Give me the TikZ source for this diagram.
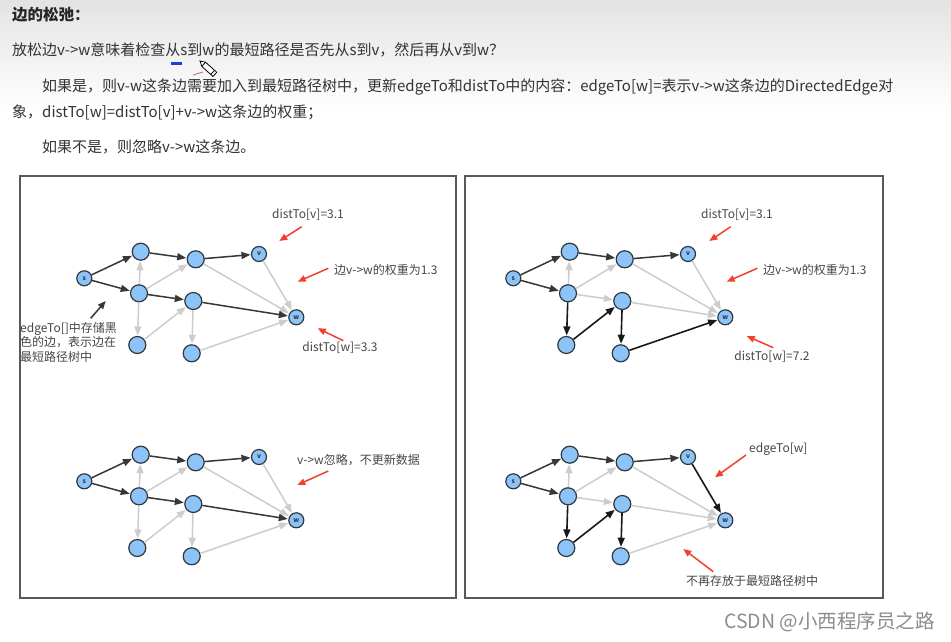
\documentclass[tikz,border=0pt]{standalone}
\usepackage{fontspec}
\newfontfamily\cjk{Noto Sans CJK SC}
\usetikzlibrary{arrows.meta}
\definecolor{vfill}{RGB}{140,196,250}
\definecolor{vline}{RGB}{50,55,60}
\definecolor{darkedge}{RGB}{55,55,55}
\definecolor{liteedge}{RGB}{205,205,205}
\definecolor{notered}{RGB}{242,64,44}
\definecolor{txt}{RGB}{51,51,51}
\definecolor{penblue}{RGB}{30,60,215}
\begin{document}
\begin{tikzpicture}[x=1pt,y=-1pt,
	vtx/.style={circle,draw=vline,fill=vfill,line width=1.2pt,minimum size=17pt,inner sep=0pt,
		font=\cjk\bfseries\fontsize{6.5}{6.5}\selectfont,text=vline},
	small/.style={minimum size=15pt},
	liteline/.style={liteedge,line width=1.5pt,-{Triangle[length=9pt,width=7pt]},shorten >=0.5pt},
	darkline/.style={darkedge,line width=1.5pt,-{Triangle[length=9pt,width=7pt]},shorten >=0.5pt},
	newline/.style={black!90,line width=1.6pt,-{Triangle[length=9pt,width=7pt]},shorten >=0.5pt},
	body/.style={anchor=west,inner sep=0pt,text=txt,font=\cjk\fontsize{15}{15}\selectfont},
	note/.style={inner sep=0pt,text=txt!90,font=\cjk\fontsize{12}{14.5}\selectfont},
	redarrow/.style={notered,line width=1.5pt,-{Triangle[length=8pt,width=6.5pt]}},
	blackarrow/.style={darkedge,line width=1.5pt,-{Triangle[length=8pt,width=6.5pt]}},
	panel/.style={draw=black!65,line width=1.6pt}]
	\useasboundingbox (0,0) rectangle (951,642);
	\fill[white] (0,0) rectangle (951,642);
	\shade[top color=black!11,bottom color=white] (0,0) rectangle (951,110);

	\node[body,font=\cjk\bfseries\fontsize{15.5}{15.5}\selectfont,text=black!85] (title) at (12,15) {边的松弛：};
	\node[body] (q1) at (12,50) {放松边v->w意味着检查从s到w的最短路径是否先从s到v，然后再从v到w？};
	\node[body] (q2) at (42,87) {如果是，则v-w这条边需要加入到最短路径树中，更新edgeTo和distTo中的内容：edgeTo[w]=表示v->w这条边的DirectedEdge对};
	\node[body] (q3) at (12,112) {象，distTo[w]=distTo[v]+v->w这条边的权重；};
	\node[body] (q4) at (42,147) {如果不是，则忽略v->w这条边。};

	\draw[penblue,line width=3pt] (171,64) -- (182,64);
	\draw[penblue!50!red!60,line width=1pt] (193,75) -- (203,72);
	\begin{scope}[shift={(200,61)},rotate=-42]
		\draw[fill=white,line width=0.8pt] (0,0) -- (5,-2.8) -- (20,-2.8) -- (20,2.8) -- (5,2.8) -- cycle;
		\draw[line width=0.8pt] (5,-2.8) -- (5,2.8) (17,-2.8) -- (17,2.8);
	\end{scope}

	\draw[panel] (20,176) rectangle (456,598);
	\draw[panel] (465,176) rectangle (883,598);

	\foreach \p/\dx/\dy/\edges in {%
		p1/0/0/{c/a/liteline, c/b/liteline, c/e/liteline, e/d/liteline, d/f/liteline, f/w/liteline, b/w/liteline, v/w/liteline,%
			s/a/darkline, s/c/darkline, a/b/darkline, b/v/darkline, c/d/darkline, d/w/darkline},%
		p2/429/0/{c/a/liteline, c/b/liteline, c/d/liteline, b/w/liteline, v/w/liteline, d/w/liteline,%
			s/a/darkline, s/c/darkline, a/b/darkline, b/v/darkline, c/e/newline, e/d/newline, d/f/newline, f/w/newline},%
		p3/0/203/{c/a/liteline, c/b/liteline, c/e/liteline, e/d/liteline, d/f/liteline, f/w/liteline, b/w/liteline, v/w/liteline,%
			s/a/darkline, s/c/darkline, a/b/darkline, b/v/darkline, c/d/darkline, d/w/darkline},%
		p4/429/203/{c/a/liteline, c/b/liteline, c/d/liteline, b/w/liteline, d/w/liteline, f/w/liteline,%
			s/a/darkline, s/c/darkline, a/b/darkline, b/v/darkline, c/e/newline, e/d/newline, d/f/newline, v/w/newline}%
	}{
		\begin{scope}[shift={(\dx,\dy)},name prefix=\p-]
			\foreach \n/\x/\y in {s/84.3/278.3, v/259/254, w/296.3/317.3}
				\node[vtx,small] (\n) at (\x,\y) {\n};
			\foreach \n/\x/\y in {a/140.7/251.7, b/195.7/259.3, c/139/293.3, d/193.3/301, e/137.3/345, f/191.7/353.3}
				\node[vtx] (\n) at (\x,\y) {};
			\foreach \u/\t/\st in \edges
				\draw[\st] (\u) -- (\t);
		\end{scope}
	}

	% notes, top left
	\node[note] (dv1) at (308,215) {distTo[v]=3.1};
	\node[note,anchor=west] (wt1) at (334,270) {边v->w的权重为1.3};
	\node[note] (dw1) at (340,348) {distTo[w]=3.3};
	\node[note,anchor=north west,align=left] (et1) at (20,322) {edgeTo[]中存储黑\\色的边，表示边在\\最短路径树中};
	% notes, top right
	\node[note] (dv2) at (737,215) {distTo[v]=3.1};
	\node[note,anchor=west] (wt2) at (763,270) {边v->w的权重为1.3};
	\node[note] (dw2) at (772,357) {distTo[w]=7.2};
	% notes, bottom
	\node[note,anchor=west] (ig3) at (297,460) {v->w忽略，不更新数据};
	\node[note,anchor=west] (ew4) at (749,449) {edgeTo[w]};
	\node[note,anchor=west] (nt4) at (686,581) {不再存放于最短路径树中};

	\foreach \k/\xa/\ya/\xb/\yb in {1/301.7/226.7/279.3/241, 2/328.3/268.3/297.7/281.7, 3/343.3/340.7/317.7/328.3,%
		4/730.7/226.7/709.3/241, 5/757.3/268.3/726.7/281.7, 6/773.3/347.7/746.7/336,%
		7/328.3/471/297.3/485, 8/746/455/715/477.3, 9/713.3/571.7/683.3/549}{
		\coordinate (r\k-a) at (\xa,\ya);
		\coordinate (r\k-b) at (\xb,\yb);
		\draw[redarrow] (r\k-a) -- (r\k-b);
	}
	\coordinate (k-a) at (90.7,318.3);
	\coordinate (k-b) at (105.7,301);
	\draw[blackarrow] (k-a) -- (k-b);

	\node[anchor=west,inner sep=0pt,text=black!45,font=\cjk\fontsize{19.5}{19.5}\selectfont] (csdn) at (724,622) {CSDN @小西程序员之路};
\end{tikzpicture}
\end{document}
